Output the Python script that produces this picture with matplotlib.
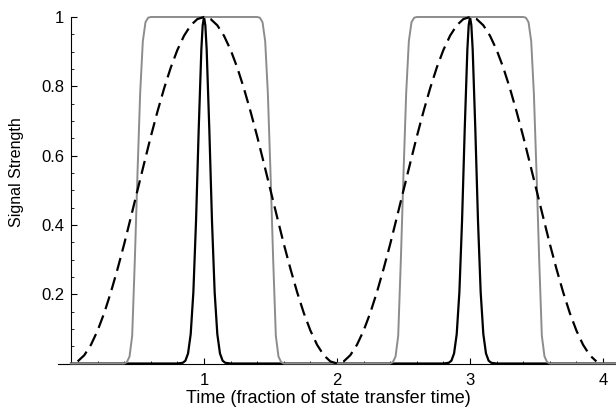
import numpy as np
import matplotlib.pyplot as plt
from matplotlib.ticker import MultipleLocator, FixedLocator, FixedFormatter

plt.rcParams['font.family'] = ['Liberation Sans', 'DejaVu Sans']

# dashed curve, sampled every 0.05 from t = 0.05 to 3.95
dash_t = np.round(np.arange(0.05, 3.951, 0.05), 2)
half_period = [0.006, 0.024, 0.054, 0.095, 0.146, 0.206, 0.273, 0.345, 0.422, 0.500,
               0.578, 0.655, 0.727, 0.794, 0.854, 0.905, 0.946, 0.976, 0.994, 1.000,
               0.994, 0.976, 0.946, 0.905, 0.854, 0.794, 0.727, 0.655, 0.578, 0.500,
               0.422, 0.345, 0.273, 0.206, 0.146, 0.095, 0.054, 0.024, 0.006]
dash_v = half_period + [0.000] + half_period

# narrow black peaks
black_t = [0.00, 0.80, 0.84, 0.86, 0.88, 0.90, 0.92, 0.94, 0.96, 0.98, 0.99, 1.00,
           1.01, 1.02, 1.04, 1.06, 1.08, 1.10, 1.12, 1.14, 1.16, 1.20,
           2.80, 2.84, 2.86, 2.88, 2.90, 2.92, 2.94, 2.96, 2.98, 2.99, 3.00,
           3.01, 3.02, 3.04, 3.06, 3.08, 3.10, 3.12, 3.14, 3.16, 3.20, 4.09]
black_v = [0.0, 0.0, 0.002, 0.008, 0.029, 0.085, 0.206, 0.411, 0.674, 0.906, 0.976, 1.0,
           0.976, 0.906, 0.674, 0.411, 0.206, 0.085, 0.029, 0.008, 0.002, 0.0,
           0.0, 0.002, 0.008, 0.029, 0.085, 0.206, 0.411, 0.674, 0.906, 0.976, 1.0,
           0.976, 0.906, 0.674, 0.411, 0.206, 0.085, 0.029, 0.008, 0.002, 0.0, 0.0]

# flat-top gray pulses
gray_t = [0.00, 0.40, 0.42, 0.44, 0.46, 0.48, 0.50, 0.52, 0.54, 0.56, 0.58, 0.60,
          1.40, 1.42, 1.44, 1.46, 1.48, 1.50, 1.52, 1.54, 1.56, 1.58, 1.60,
          2.40, 2.42, 2.44, 2.46, 2.48, 2.50, 2.52, 2.54, 2.56, 2.58, 2.60,
          3.40, 3.42, 3.44, 3.46, 3.48, 3.50, 3.52, 3.54, 3.56, 3.58, 3.60, 4.09]
gray_v = [0.0, 0.0, 0.004, 0.02, 0.08, 0.30, 0.55, 0.78, 0.93, 0.985, 0.998, 1.0,
          1.0, 0.998, 0.985, 0.93, 0.78, 0.55, 0.30, 0.08, 0.02, 0.004, 0.0,
          0.0, 0.004, 0.02, 0.08, 0.30, 0.55, 0.78, 0.93, 0.985, 0.998, 1.0,
          1.0, 0.998, 0.985, 0.93, 0.78, 0.55, 0.30, 0.08, 0.02, 0.004, 0.0, 0.0]

x_ticks = [1, 2, 3, 4]
y_ticks = [0.2, 0.4, 0.6, 0.8, 1.0]
y_labels = ['0.2', '0.4', '0.6', '0.8', '1']

fig = plt.figure(figsize=(6.16, 4.13), dpi=100)
ax = fig.add_axes([57.7/616, 49.5/413, 557.3/616, 346.5/413])

ax.plot(black_t, black_v, color='black', lw=1.6, clip_on=False, zorder=3)
ax.plot(gray_t, gray_v, color='#8c8c8c', lw=1.4, clip_on=False, zorder=4)
ax.plot(dash_t, dash_v, color='black', lw=1.6, dashes=(6.0, 3.0), clip_on=False, zorder=5)

ax.set_xlim(-0.1, 4.09)
ax.set_ylim(0, 1)

ax.spines['top'].set_visible(False)
ax.spines['right'].set_visible(False)
ax.spines['left'].set_position(('data', 0))
ax.spines['left'].set_linewidth(0.8)
ax.spines['bottom'].set_linewidth(0.8)

ax.xaxis.set_major_locator(FixedLocator(x_ticks))
ax.xaxis.set_minor_locator(MultipleLocator(0.2))
ax.yaxis.set_major_locator(FixedLocator(y_ticks))
ax.yaxis.set_major_formatter(FixedFormatter(y_labels))
ax.yaxis.set_minor_locator(MultipleLocator(0.05))

ax.tick_params(which='major', direction='in', length=4, width=0.8, labelsize=12)
ax.tick_params(which='minor', direction='in', length=2.5, width=0.6)
ax.tick_params(axis='x', which='major', pad=7)
ax.tick_params(axis='y', which='major', pad=5)

fig.text(328/616, 1 - 390/413, 'Time (fraction of state transfer time)',
         ha='center', va='top', fontsize=13)
fig.text(17/616, 1 - 172/413, 'Signal Strength', rotation=90,
         ha='center', va='center', fontsize=11.5)

fig.savefig('out.png', dpi=100)
